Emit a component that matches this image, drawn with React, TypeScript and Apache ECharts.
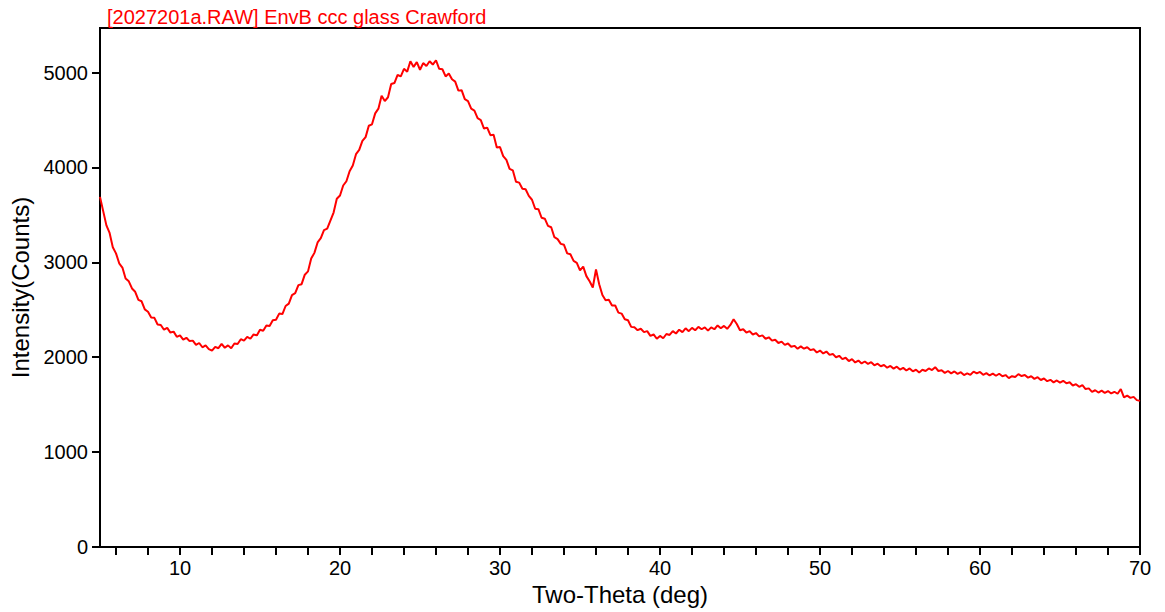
import React, { useEffect, useRef } from "react";
import * as echarts from "echarts";

// Scan settings (instrument step grid)
const twoThetaStart = 5;
const twoThetaStep = 0.2;

// Intensity (counts), one value per 0.2 deg from 5 to 70
const intensity: number[] = [
  3690, 3540, 3390, 3310, 3160, 3095, 2990, 2945, 2830, 2800,
  2725, 2690, 2605, 2590, 2505, 2480, 2420, 2415, 2345, 2340,
  2290, 2310, 2260, 2270, 2215, 2230, 2185, 2205, 2170, 2175,
  2130, 2150, 2105, 2125, 2085, 2070, 2110, 2095, 2140, 2100,
  2125, 2095, 2145, 2140, 2190, 2175, 2215, 2195, 2240, 2230,
  2290, 2280, 2335, 2330, 2390, 2395, 2460, 2455, 2540, 2565,
  2655, 2675, 2760, 2770, 2870, 2905, 3040, 3100, 3210, 3255,
  3340, 3355, 3440, 3525, 3670, 3705, 3810, 3855, 3960, 4020,
  4140, 4185, 4280, 4320, 4440, 4455, 4570, 4620, 4755, 4700,
  4740, 4880, 4890, 4975, 4960, 5040, 5010, 5120, 5060, 5110,
  5030, 5100, 5070, 5120, 5085, 5130, 5040, 5035, 4960, 4990,
  4930, 4905, 4810, 4815, 4720, 4700, 4620, 4600, 4520, 4500,
  4410, 4420, 4340, 4345, 4210, 4215, 4120, 4080, 3985, 3970,
  3850, 3840, 3775, 3770, 3700, 3660, 3565, 3560, 3470, 3460,
  3385, 3370, 3265, 3245, 3195, 3185, 3095, 3085, 3015, 2995,
  2915, 2955, 2855, 2800, 2735, 2925, 2770, 2655, 2600, 2605,
  2545, 2545, 2470, 2460, 2400, 2390, 2320, 2315, 2285, 2300,
  2265, 2275, 2225, 2240, 2195, 2225, 2200, 2245, 2235, 2275,
  2250, 2290, 2265, 2305, 2275, 2310, 2285, 2320, 2295, 2315,
  2280, 2315, 2295, 2335, 2305, 2330, 2300, 2340, 2400, 2350,
  2285, 2295, 2260, 2275, 2240, 2255, 2220, 2230, 2195, 2210,
  2175, 2185, 2150, 2165, 2130, 2145, 2110, 2120, 2090, 2115,
  2090, 2105, 2075, 2085, 2050, 2070, 2040, 2060, 2025, 2035,
  2000, 2015, 1980, 1995, 1960, 1980, 1945, 1965, 1935, 1955,
  1930, 1948, 1915, 1932, 1905, 1918, 1890, 1908, 1880, 1900,
  1870, 1888, 1860, 1882, 1852, 1868, 1840, 1868, 1855, 1882,
  1865, 1895, 1855, 1862, 1835, 1855, 1830, 1850, 1825, 1842,
  1812, 1830, 1815, 1848, 1830, 1845, 1815, 1832, 1808, 1828,
  1805, 1826, 1800, 1812, 1780, 1800, 1792, 1822, 1802, 1812,
  1785, 1800, 1772, 1790, 1760, 1776, 1748, 1762, 1735, 1755,
  1732, 1752, 1725, 1736, 1702, 1716, 1688, 1705, 1665, 1672,
  1635, 1652, 1628, 1648, 1625, 1644, 1618, 1636, 1615, 1665,
  1578, 1595, 1572, 1582, 1548, 1540,
];

const xTickValues = [6, 8, 10, 12, 14, 16, 18, 20, 22, 24, 26, 28, 30, 32, 34, 36, 38, 40, 42, 44, 46, 48, 50, 52, 54, 56, 58, 60, 62, 64, 66, 68, 70];
const xLabelValues = [10, 20, 30, 40, 50, 60, 70];
const yTickValues = [0, 1000, 2000, 3000, 4000, 5000];

const titleText = "[2027201a.RAW] EnvB ccc glass Crawford";
const xName = "Two-Theta (deg)";
const yName = "Intensity(Counts)";

export default function App() {
  const ref = useRef<HTMLDivElement>(null);
  useEffect(() => {
    if (!ref.current) return;
    const chart = echarts.init(ref.current, null, { renderer: "svg" });
    const data = intensity.map((v, i) => [
      Math.round((twoThetaStart + i * twoThetaStep) * 10) / 10,
      v,
    ]);
    const font = "Liberation Sans";
    chart.setOption({
      animation: false,
      backgroundColor: "#ffffff",
      title: {
        text: titleText,
        left: 102,
        top: 2,
        textStyle: { color: "#ff0000", fontSize: 20, fontWeight: "normal", fontFamily: font },
      },
      grid: {
        left: 100,
        right: 25,
        top: 28,
        bottom: 65,
        show: true,
        borderColor: "#000",
        borderWidth: 2,
        backgroundColor: "transparent",
      },
      xAxis: {
        type: "value",
        min: 5,
        max: 70,
        name: xName,
        nameLocation: "middle",
        nameGap: 35,
        nameTextStyle: { color: "#000", fontSize: 24, fontFamily: font },
        axisLine: { show: true, lineStyle: { color: "#000", width: 2 } },
        axisTick: { show: true, inside: false, length: 8, customValues: xTickValues, lineStyle: { color: "#000", width: 2 } },
        axisLabel: { customValues: xLabelValues, color: "#000", fontSize: 20, margin: 11, fontFamily: font },
        splitLine: { show: false },
      },
      yAxis: {
        type: "value",
        min: 0,
        max: 5470,
        name: yName,
        nameLocation: "middle",
        nameGap: 66,
        nameTextStyle: { color: "#000", fontSize: 24, fontFamily: font },
        axisLine: { show: true, lineStyle: { color: "#000", width: 2 } },
        axisTick: { show: true, inside: false, length: 8, customValues: yTickValues, lineStyle: { color: "#000", width: 2 } },
        axisLabel: {
          customValues: yTickValues,
          color: "#000",
          fontSize: 20,
          margin: 12,
          fontFamily: font,
          formatter: (v: number) => String(v),
        },
        splitLine: { show: false },
      },
      series: [
        {
          type: "line",
          data,
          showSymbol: false,
          symbol: "none",
          lineStyle: { color: "#ff0000", width: 2 },
          z: 3,
        },
      ],
    });
    return () => chart.dispose();
  }, []);
  return (
    <div
      ref={ref}
      style={{ position: "fixed", left: 0, top: 0, width: 1165, height: 612, background: "#fff" }}
    />
  );
}
